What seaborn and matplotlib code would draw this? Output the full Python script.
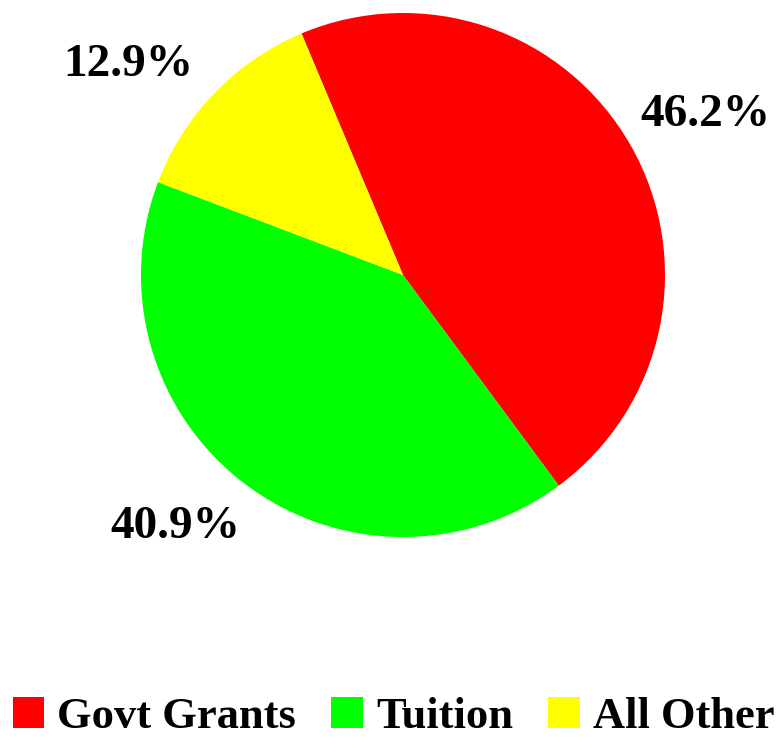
import matplotlib
matplotlib.use("Agg")
import matplotlib.pyplot as plt
import seaborn as sns
from matplotlib.patches import Patch

categories = ["Govt Grants", "Tuition", "All Other"]
values = [46.2, 40.9, 12.9]
colors = ["#ff0000", "#00ff00", "#ffff00"]

# label anchor positions (in pie radius units, relative to pie centre)
label_xy = [(1.156, 0.611), (-0.870, -0.962), (-1.050, 0.802)]

sns.set_theme(style="white")
plt.rcParams['font.family'] = ['Liberation Serif', 'DejaVu Serif']

W, H = 781, 741
fig = plt.figure(figsize=(W / 100, H / 100), dpi=100)
cx, cy, r = 403, 275, 262
ax = fig.add_axes([(cx - r) / W, (H - cy - r) / H, 2 * r / W, 2 * r / H])

wedges, texts, autotexts = ax.pie(
    values, colors=colors, startangle=112.8, counterclock=False,
    autopct="%.1f%%", pctdistance=1.31,
    wedgeprops=dict(linewidth=0),
    textprops=dict(fontsize=34, fontweight="bold", color="black"),
)
for t, xy in zip(autotexts, label_xy):
    t.set_position(xy)
ax.set_xlim(-1, 1)
ax.set_ylim(-1, 1)
ax.set_aspect("equal")
ax.axis("off")

handles = [Patch(facecolor=c, edgecolor="none") for c in colors]
leg = fig.legend(handles, categories, loc="center", bbox_to_anchor=(0.5 + 3 / W, 1 - 717 / H),
                 ncol=3, frameon=False, handlelength=0.7, handleheight=0.7,
                 handletextpad=0.3, columnspacing=0.8, borderpad=0, borderaxespad=0,
                 prop=dict(size=32, weight="bold"))
for t in leg.get_texts():
    t.set_color("black")

fig.savefig("out.png", dpi=100, facecolor="white")
